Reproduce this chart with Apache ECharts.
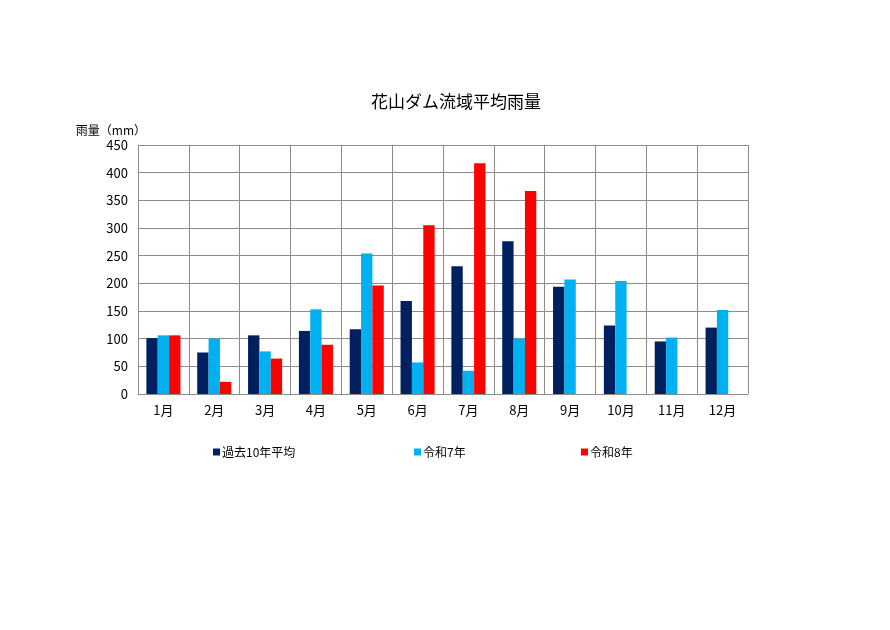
<!DOCTYPE html>
<html>
<head>
<meta charset="utf-8">
<script src="https://cdn.jsdelivr.net/npm/echarts@6/dist/echarts.min.js"></script>
<style>
  html, body { margin: 0; padding: 0; background: #fff; }
  #chart { width: 890px; height: 630px; }
</style>
</head>
<body>
<div id="chart"></div>
<script>
// 月
const months = ['1月', '2月', '3月', '4月', '5月', '6月', '7月', '8月', '9月', '10月', '11月', '12月'];

// 雨量（mm）
const avg10 = [101, 75, 106, 114, 117, 168, 231, 276, 194, 124, 95, 120];
const reiwa7 = [106, 100, 77, 153, 254, 57, 42, 100, 207, 204, 102, 152];
const reiwa8 = [106, 22, 64, 89, 196, 305, 417, 367, null, null, null, null];

const seriesNames = ['過去10年平均', '令和7年', '令和8年'];
const colors = ['#002060', '#00B0F0', '#FF0000'];

const font = "'Liberation Sans Narrow', 'Noto Sans CJK JP', sans-serif";

var chart = echarts.init(document.getElementById('chart'));

// 凡例はそれぞれ位置を指定
const legendLeft = [208, 409, 576];
const legends = seriesNames.map((name, i) => ({
    data: [name],
    left: legendLeft[i],
    top: 441,
    icon: 'rect',
    itemWidth: 7,
    itemHeight: 7,
    itemGap: 3,
    textStyle: { fontSize: 12, color: '#000', fontFamily: font, padding: [0, 0, 0, -3] }
}));

var option = {
    backgroundColor: '#fff',
    animation: false,
    title: {
        text: '花山ダム流域平均雨量',
        left: 451,
        top: 88,
        textAlign: 'center',
        textStyle: { fontSize: 17, fontWeight: 'normal', color: '#000', fontFamily: "'Noto Sans CJK JP', sans-serif" }
    },
    legend: legends,
    grid: { left: 138, right: 142, top: 145, bottom: 236 },
    xAxis: {
        type: 'category',
        data: months,
        axisLine: { lineStyle: { color: '#8c8c8c', width: 1 } },
        axisTick: { show: false },
        splitLine: { show: true, lineStyle: { color: '#8c8c8c', width: 1 } },
        axisLabel: { fontSize: 13, color: '#000', margin: 10, fontFamily: font }
    },
    yAxis: {
        type: 'value',
        min: 0,
        max: 450,
        interval: 50,
        name: '雨量（mm）',
        nameLocation: 'end',
        nameGap: 9,
        nameTextStyle: { fontSize: 12, color: '#000', align: 'right', padding: [0, -8, 0, 0], fontFamily: font },
        axisLine: { show: true, lineStyle: { color: '#8c8c8c', width: 1 } },
        axisTick: { show: false },
        splitLine: { lineStyle: { color: '#8c8c8c', width: 1 } },
        axisLabel: { fontSize: 13, color: '#000', margin: 10, fontFamily: font }
    },
    series: [avg10, reiwa7, reiwa8].map((d, i) => ({
        name: seriesNames[i],
        type: 'bar',
        data: d,
        barGap: '0%',
        barCategoryGap: '33%',
        itemStyle: { color: colors[i] }
    }))
};

chart.setOption(option);
</script>
</body>
</html>
